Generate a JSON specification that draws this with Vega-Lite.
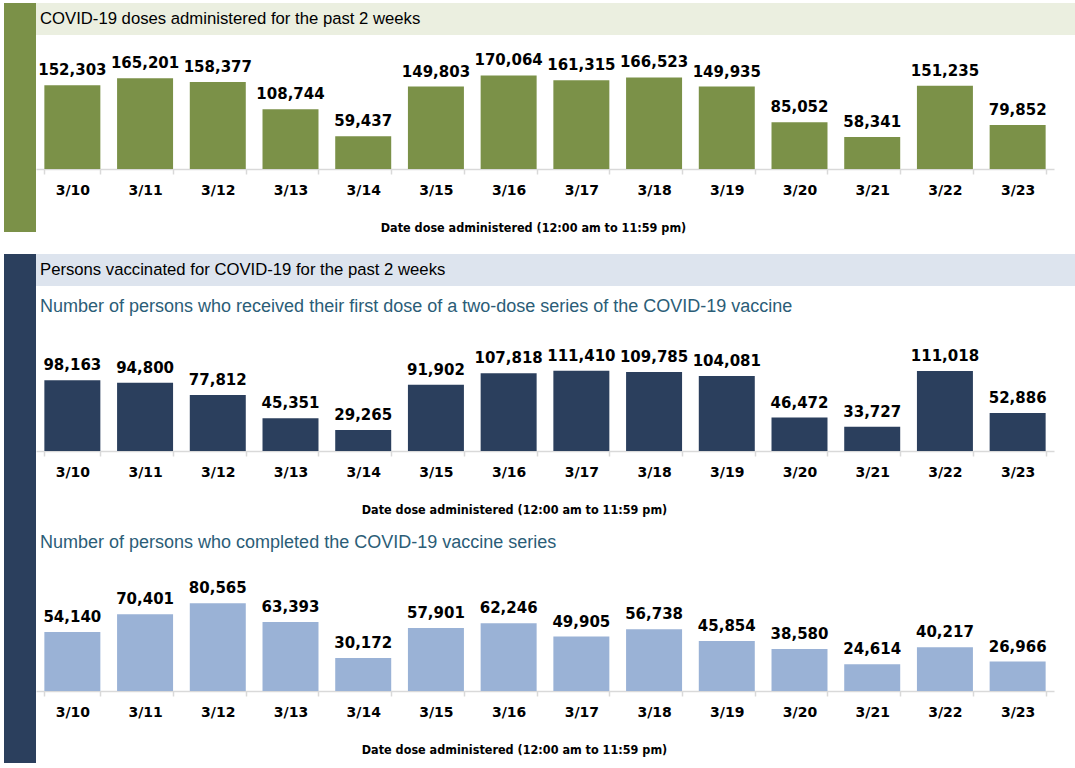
{
  "$schema": "https://vega.github.io/schema/vega-lite/v6.json",
  "padding": {"left": 4, "top": 3, "right": 0, "bottom": 0},
  "background": "white",
  "config": {
    "view": {"stroke": null},
    "axis": {
      "domainColor": "#d9d9d9",
      "domainWidth": 1.5,
      "tickColor": "#d9d9d9",
      "tickWidth": 1.5,
      "tickSize": 5,
      "tickBand": "extent",
      "labelFont": "DejaVu Sans",
      "labelFontWeight": "bold",
      "labelFontSize": 14,
      "labelColor": "#000000",
      "labelPadding": 9,
      "labelAngle": 0,
      "titleFont": "DejaVu Sans Condensed, Liberation Sans, sans-serif",
      "titleFontWeight": "bold",
      "titleFontSize": 12.5,
      "titleColor": "#000000",
      "titlePadding": 24,
      "grid": false
    }
  },
  "datasets": {
    "doses": [
      {"date": "3/10", "value": 152303}, {"date": "3/11", "value": 165201}, {"date": "3/12", "value": 158377},
      {"date": "3/13", "value": 108744}, {"date": "3/14", "value": 59437}, {"date": "3/15", "value": 149803},
      {"date": "3/16", "value": 170064}, {"date": "3/17", "value": 161315}, {"date": "3/18", "value": 166523},
      {"date": "3/19", "value": 149935}, {"date": "3/20", "value": 85052}, {"date": "3/21", "value": 58341},
      {"date": "3/22", "value": 151235}, {"date": "3/23", "value": 79852}
    ],
    "first": [
      {"date": "3/10", "value": 98163}, {"date": "3/11", "value": 94800}, {"date": "3/12", "value": 77812},
      {"date": "3/13", "value": 45351}, {"date": "3/14", "value": 29265}, {"date": "3/15", "value": 91902},
      {"date": "3/16", "value": 107818}, {"date": "3/17", "value": 111410}, {"date": "3/18", "value": 109785},
      {"date": "3/19", "value": 104081}, {"date": "3/20", "value": 46472}, {"date": "3/21", "value": 33727},
      {"date": "3/22", "value": 111018}, {"date": "3/23", "value": 52886}
    ],
    "complete": [
      {"date": "3/10", "value": 54140}, {"date": "3/11", "value": 70401}, {"date": "3/12", "value": 80565},
      {"date": "3/13", "value": 63393}, {"date": "3/14", "value": 30172}, {"date": "3/15", "value": 57901},
      {"date": "3/16", "value": 62246}, {"date": "3/17", "value": 49905}, {"date": "3/18", "value": 56738},
      {"date": "3/19", "value": 45854}, {"date": "3/20", "value": 38580}, {"date": "3/21", "value": 24614},
      {"date": "3/22", "value": 40217}, {"date": "3/23", "value": 26966}
    ]
  },
  "spacing": 20,
  "vconcat": [
    {
      "spacing": 0,
      "hconcat": [
        {
          "width": 32, "height": 229,
          "view": {"fill": "#7b9148", "stroke": null},
          "data": {"values": [{}]},
          "mark": {"type": "text"},
          "encoding": {"text": {"value": ""}}
        },
        {
          "spacing": 24,
          "bounds": "flush",
          "vconcat": [
            {
              "width": 1039, "height": 32,
              "view": {"fill": "#ebefe0", "stroke": null},
              "data": {"values": [{"label": "COVID-19 doses administered for the past 2 weeks", "pos": 0}]},
              "mark": {"type": "text", "align": "left", "baseline": "middle", "dx": 4, "font": "Liberation Sans", "fontSize": 16.7, "color": "#000000"},
              "encoding": {
                "text": {"field": "label"},
                "x": {"field": "pos", "type": "quantitative", "scale": {"domain": [0, 1]}, "axis": null}
              }
            },
            {
              "width": 1018, "height": 110,
              "data": {"name": "doses"},
              "encoding": {
                "x": {"field": "date", "type": "ordinal", "sort": null, "scale": {"paddingInner": 0.23, "paddingOuter": 0.115},
                      "axis": {"title": "Date dose administered (12:00 am to 11:59 pm)", "titleX": 497, "titleAnchor": "start", "titleAlign": "center"}},
                "y": {"field": "value", "type": "quantitative", "scale": {"domain": [0, 200000]}, "axis": null}
              },
              "layer": [
                {"mark": {"type": "bar", "color": "#7b9148"}},
                {"mark": {"type": "text", "baseline": "alphabetic", "dy": -10, "font": "DejaVu Sans", "fontWeight": "bold", "fontSize": 15, "color": "#000000"},
                 "encoding": {"text": {"field": "value", "type": "quantitative", "format": ","}}}
              ]
            }
          ]
        }
      ]
    },
    {
      "spacing": 0,
      "hconcat": [
        {
          "width": 32, "height": 509,
          "view": {"fill": "#2b3f5d", "stroke": null},
          "data": {"values": [{}]},
          "mark": {"type": "text"},
          "encoding": {"text": {"value": ""}}
        },
        {
          "spacing": 0,
          "bounds": "flush",
          "vconcat": [
            {
              "width": 1039, "height": 32,
              "view": {"fill": "#dde4ee", "stroke": null},
              "data": {"values": [{"label": "Persons vaccinated for COVID-19 for the past 2 weeks", "pos": 0}]},
              "mark": {"type": "text", "align": "left", "baseline": "middle", "dx": 4, "font": "Liberation Sans", "fontSize": 16.7, "color": "#000000"},
              "encoding": {
                "text": {"field": "label"},
                "x": {"field": "pos", "type": "quantitative", "scale": {"domain": [0, 1]}, "axis": null}
              }
            },
            {
              "width": 1039, "height": 57,
              "data": {"values": [{"label": "Number of persons who received their first dose of a two-dose series of the COVID-19 vaccine", "pos": 0}]},
              "mark": {"type": "text", "align": "left", "baseline": "middle", "dx": 4, "dy": -7.5, "font": "Liberation Sans", "fontSize": 18, "color": "#2b5d77"},
              "encoding": {
                "text": {"field": "label"},
                "x": {"field": "pos", "type": "quantitative", "scale": {"domain": [0, 1]}, "axis": null}
              }
            },
            {
              "width": 1018, "height": 108,
              "data": {"name": "first"},
              "encoding": {
                "x": {"field": "date", "type": "ordinal", "sort": null, "scale": {"paddingInner": 0.23, "paddingOuter": 0.115},
                      "axis": {"title": "Date dose administered (12:00 am to 11:59 pm)", "titleX": 478, "titleAnchor": "start", "titleAlign": "center"}},
                "y": {"field": "value", "type": "quantitative", "scale": {"domain": [0, 150000]}, "axis": null}
              },
              "layer": [
                {"mark": {"type": "bar", "color": "#2b3f5d"}},
                {"mark": {"type": "text", "baseline": "alphabetic", "dy": -10, "font": "DejaVu Sans", "fontWeight": "bold", "fontSize": 15, "color": "#000000"},
                 "encoding": {"text": {"field": "value", "type": "quantitative", "format": ","}}}
              ]
            },
            {
              "width": 1039, "height": 131,
              "data": {"values": [{"label": "Number of persons who completed the COVID-19 vaccine series", "pos": 0}]},
              "mark": {"type": "text", "align": "left", "baseline": "middle", "dx": 4, "dy": 26.5, "font": "Liberation Sans", "fontSize": 18, "color": "#2b5d77"},
              "encoding": {
                "text": {"field": "label"},
                "x": {"field": "pos", "type": "quantitative", "scale": {"domain": [0, 1]}, "axis": null}
              }
            },
            {
              "width": 1018, "height": 109,
              "data": {"name": "complete"},
              "encoding": {
                "x": {"field": "date", "type": "ordinal", "sort": null, "scale": {"paddingInner": 0.23, "paddingOuter": 0.115},
                      "axis": {"title": "Date dose administered (12:00 am to 11:59 pm)", "titleX": 478, "titleAnchor": "start", "titleAlign": "center"}},
                "y": {"field": "value", "type": "quantitative", "scale": {"domain": [0, 100000]}, "axis": null}
              },
              "layer": [
                {"mark": {"type": "bar", "color": "#9ab2d6"}},
                {"mark": {"type": "text", "baseline": "alphabetic", "dy": -10, "font": "DejaVu Sans", "fontWeight": "bold", "fontSize": 15, "color": "#000000"},
                 "encoding": {"text": {"field": "value", "type": "quantitative", "format": ","}}}
              ]
            }
          ]
        }
      ]
    }
  ]
}
